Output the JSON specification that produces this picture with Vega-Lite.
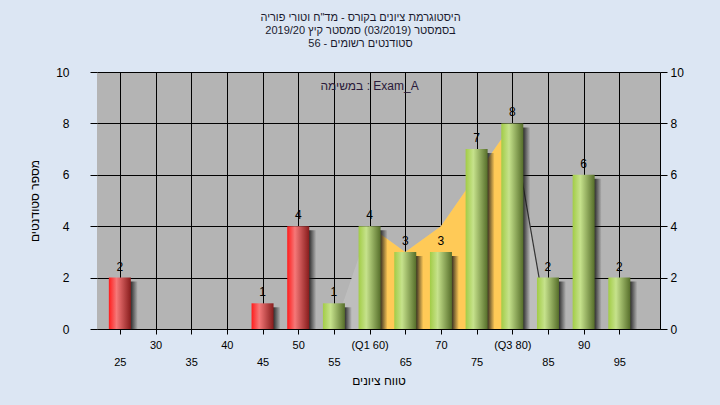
{
  "$schema": "https://vega.github.io/schema/vega-lite/v6.json",
  "width": 563,
  "height": 257,
  "autosize": {"type": "none"},
  "padding": {"left": 97, "top": 72, "right": 60, "bottom": 76},
  "background": "#dce6f3",
  "config": {
    "font": "Liberation Sans",
    "view": {"fill": "#b4b4b4", "stroke": null}
  },
  "title": {
    "text": ["היסטוגרמת ציונים בקורס - מד\"ח וטורי פוריה", "בסמסטר  (03/2019)  סמסטר קיץ 2019/20", "סטודנטים רשומים - 56"],
    "fontSize": 11,
    "fontWeight": "normal",
    "color": "#1a1a2e",
    "lineHeight": 13,
    "anchor": "middle",
    "dx": -18,
    "offset": 17
  },
  "datasets": {
    "hist": [
      {"grade": 25, "count": 2},
      {"grade": 30, "count": 0},
      {"grade": 35, "count": 0},
      {"grade": 40, "count": 0},
      {"grade": 45, "count": 1},
      {"grade": 50, "count": 4},
      {"grade": 55, "count": 1},
      {"grade": 60, "count": 4},
      {"grade": 65, "count": 3},
      {"grade": 70, "count": 3},
      {"grade": 75, "count": 7},
      {"grade": 80, "count": 8},
      {"grade": 85, "count": 2},
      {"grade": 90, "count": 6},
      {"grade": 95, "count": 2}
    ],
    "band": [
      {"grade": 55, "value": 0},
      {"grade": 60, "value": 4},
      {"grade": 65, "value": 3},
      {"grade": 70, "value": 4},
      {"grade": 75, "value": 6},
      {"grade": 80, "value": 8},
      {"grade": 85, "value": 0}
    ]
  },
  "resolve": {"axis": {"y": "independent"}},
  "layer": [
    {
      "data": {"name": "band"},
      "mark": {"type": "area", "color": "#bebebe", "opacity": 1},
      "encoding": {
        "x": {
          "field": "grade", "type": "quantitative",
          "scale": {"domain": [22.5, 100], "nice": false, "zero": false},
          "axis": {
            "values": [25, 30, 35, 40, 45, 50, 55, 60, 65, 70, 75, 80, 85, 90, 95],
            "labelExpr": "datum.value == 60 ? '(Q1 60)' : datum.value == 80 ? '(Q3 80)' : (datum.value % 10 == 5 ? ['', datum.label] : datum.label)",
            "labelOverlap": false,
            "labelBound": false,
            "labelFlush": false,
            "labelFontSize": 11,
            "labelColor": "#000000",
            "labelBaseline": "top",
            "labelLineHeight": 17,
            "labelPadding": 5,
            "tickSize": 5,
            "tickColor": "#000000",
            "domainColor": "#000000",
            "grid": true,
            "gridColor": "#000000",
            "gridOpacity": 1,
            "title": "טווח ציונים",
            "titleFontSize": 12,
            "titleFontWeight": "normal",
            "titleColor": "#000000",
            "titlePadding": 8
          }
        },
        "y": {
          "field": "value", "type": "quantitative",
          "scale": {"domain": [0, 10], "nice": false},
          "axis": {
            "orient": "left",
            "values": [0, 2, 4, 6, 8, 10],
            "grid": true,
            "gridColor": "#000000",
            "gridOpacity": 1,
            "domain": false,
            "tickSize": 7,
            "tickColor": "#000000",
            "labelPadding": 21,
            "labelFontSize": 12,
            "labelColor": "#000000",
            "title": "מספר סטודנטים",
            "titleFontSize": 12,
            "titleFontWeight": "normal",
            "titleColor": "#000000",
            "titlePadding": 14
          }
        }
      }
    },
    {
      "data": {"name": "band"},
      "transform": [{"filter": "datum.grade >= 60 && datum.grade <= 80"}],
      "mark": {"type": "area", "color": "#ffca57", "opacity": 1},
      "encoding": {
        "x": {"field": "grade", "type": "quantitative"},
        "y": {"field": "value", "type": "quantitative", "axis": null}
      }
    },
    {
      "data": {"name": "band"},
      "transform": [{"filter": "datum.grade >= 80"}],
      "mark": {"type": "line", "color": "#333333", "strokeWidth": 1.2},
      "encoding": {
        "x": {"field": "grade", "type": "quantitative"},
        "y": {"field": "value", "type": "quantitative", "axis": null}
      }
    },
    {
      "data": {"name": "hist"},
      "transform": [{"filter": "datum.count > 0"}],
      "mark": {
        "type": "bar", "orient": "vertical", "size": 22, "xOffset": 7, "yOffset": 4,
        "color": {"gradient": "linear", "x1": 0, "y1": 0, "x2": 1, "y2": 0,
          "stops": [
            {"offset": 0, "color": "rgba(25,25,25,0.9)"},
            {"offset": 0.7, "color": "rgba(25,25,25,0.8)"},
            {"offset": 1, "color": "rgba(25,25,25,0)"}
          ]}
      },
      "encoding": {
        "x": {"field": "grade", "type": "quantitative"},
        "y": {"field": "count", "type": "quantitative", "stack": null, "axis": null}
      }
    },
    {
      "data": {"name": "hist"},
      "transform": [{"filter": "datum.count > 0 && datum.grade < 55"}],
      "mark": {
        "type": "bar", "orient": "vertical", "size": 22,
        "color": {"gradient": "linear", "x1": 0, "y1": 0, "x2": 1, "y2": 0,
          "stops": [
            {"offset": 0, "color": "#ff1c1c"},
            {"offset": 0.35, "color": "#f57878"},
            {"offset": 1, "color": "#871c1c"}
          ]}
      },
      "encoding": {
        "x": {"field": "grade", "type": "quantitative"},
        "y": {"field": "count", "type": "quantitative", "stack": null, "axis": null}
      }
    },
    {
      "data": {"name": "hist"},
      "transform": [{"filter": "datum.count > 0 && datum.grade >= 55"}],
      "mark": {
        "type": "bar", "orient": "vertical", "size": 22,
        "color": {"gradient": "linear", "x1": 0, "y1": 0, "x2": 1, "y2": 0,
          "stops": [
            {"offset": 0, "color": "#a2cc46"},
            {"offset": 0.35, "color": "#c6e28c"},
            {"offset": 1, "color": "#566e2a"}
          ]}
      },
      "encoding": {
        "x": {"field": "grade", "type": "quantitative"},
        "y": {"field": "count", "type": "quantitative", "stack": null, "axis": null}
      }
    },
    {
      "data": {"name": "hist"},
      "transform": [{"filter": "datum.count > 0"}],
      "mark": {"type": "text", "fontSize": 12, "color": "#000000", "baseline": "middle", "dy": -11},
      "encoding": {
        "x": {"field": "grade", "type": "quantitative"},
        "y": {
          "field": "count", "type": "quantitative",
          "axis": {
            "orient": "right",
            "values": [0, 2, 4, 6, 8, 10],
            "grid": false,
            "domain": true,
            "domainColor": "#000000",
            "tickSize": 7,
            "tickColor": "#000000",
            "labelPadding": 3,
            "labelFontSize": 12,
            "labelColor": "#000000",
            "title": null
          }
        },
        "text": {"field": "count", "type": "quantitative"}
      }
    },
    {
      "data": {"values": [{"label": "במשימה : Exam_A"}]},
      "mark": {"type": "text", "fontSize": 12, "color": "#2a1a3a", "baseline": "middle"},
      "encoding": {
        "x": {"datum": 60},
        "y": {"datum": 9.45, "axis": null},
        "text": {"field": "label"}
      }
    }
  ]
}
